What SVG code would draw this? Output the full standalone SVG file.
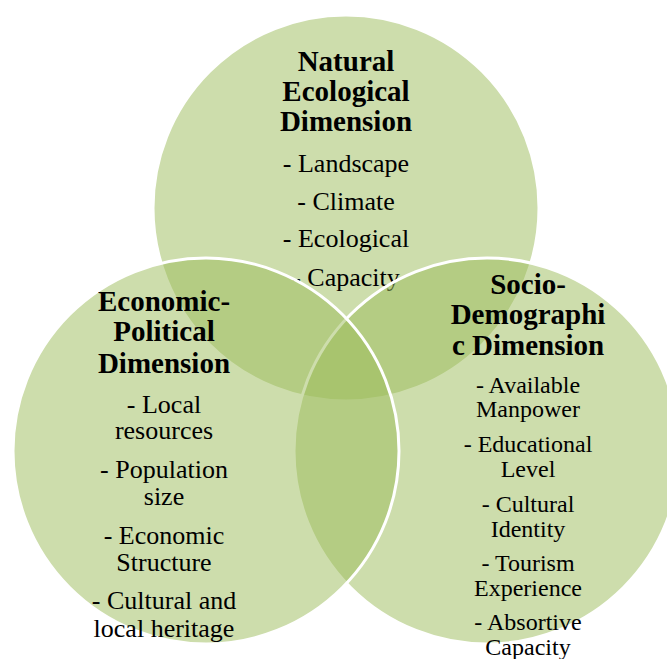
<svg xmlns="http://www.w3.org/2000/svg" width="667" height="659" viewBox="0 0 667 659">
<style>
.c{fill:#9BBB59;fill-opacity:0.5;stroke:#FFFFFF;stroke-width:3}
text{font-family:"Liberation Serif","Times New Roman",serif;fill:#000;text-anchor:middle}
.t{font-weight:bold;font-size:29px}
.i{font-size:26px}
.s{font-size:24px}
</style>
<rect width="667" height="659" fill="#FFFFFF"/>
<g id="natural-ecological">
<circle class="c" cx="346" cy="208" r="193"/>
<text class="t" x="346" y="71">Natural</text>
<text class="t" x="346" y="101">Ecological</text>
<text class="t" x="346" y="131">Dimension</text>
<text class="i" x="346" y="172">- Landscape</text>
<text class="i" x="346" y="210">- Climate</text>
<text class="i" x="346" y="247">- Ecological</text>
<text class="i" x="346" y="286">- Capacity</text>
</g>
<g id="socio-demographic">
<circle class="c" cx="487" cy="451" r="193"/>
<text class="t" x="528" y="294">Socio-</text>
<text class="t" x="528" y="324">Demographi</text>
<text class="t" x="528" y="355">c Dimension</text>
<text class="s" x="528" y="393">- Available</text>
<text class="s" x="528" y="417">Manpower</text>
<text class="s" x="528" y="452">- Educational</text>
<text class="s" x="528" y="477">Level</text>
<text class="s" x="528" y="512">- Cultural</text>
<text class="s" x="528" y="537">Identity</text>
<text class="s" x="528" y="571">- Tourism</text>
<text class="s" x="528" y="596">Experience</text>
<text class="s" x="528" y="630">- Absortive</text>
<text class="s" x="528" y="655">Capacity</text>
</g>
<g id="economic-political">
<circle class="c" cx="206" cy="451" r="193"/>
<text class="t" x="164" y="311">Economic-</text>
<text class="t" x="164" y="341">Political</text>
<text class="t" x="164" y="373">Dimension</text>
<text class="i" x="164" y="413">- Local</text>
<text class="i" x="164" y="439">resources</text>
<text class="i" x="164" y="478">- Population</text>
<text class="i" x="164" y="505">size</text>
<text class="i" x="164" y="544">- Economic</text>
<text class="i" x="164" y="571">Structure</text>
<text class="i" x="164" y="609">- Cultural and</text>
<text class="i" x="164" y="637">local heritage</text>
</g>
<g id="connectors"/>
</svg>
